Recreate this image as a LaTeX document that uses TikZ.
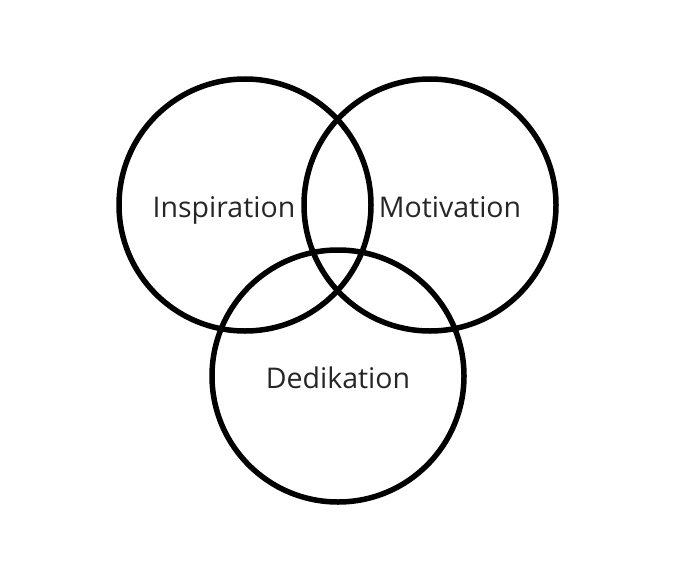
\documentclass[tikz,border=0pt]{standalone}
\usepackage{fontspec}
\setmainfont{Open Sans}
\begin{document}
\begin{tikzpicture}[x=1pt,y=-1pt,
  ring/.style={draw=black,line width=5.5pt,circle,minimum size=252pt,inner sep=0pt},
  lbl/.style={font=\fontsize{28.5}{32}\selectfont,text=black!85,anchor=base}]
\useasboundingbox (0,0) rectangle (674,578);
\node[ring] (a) at (245,205) {};
\node[ring] (b) at (430,205) {};
\node[ring] (c) at (338,376) {};
\node[lbl] (la) at (224,217) {Inspiration};
\node[lbl] (lb) at (450,217) {Motivation};
\node[lbl] (lc) at (338,388) {Dedikation};
\end{tikzpicture}
\end{document}
